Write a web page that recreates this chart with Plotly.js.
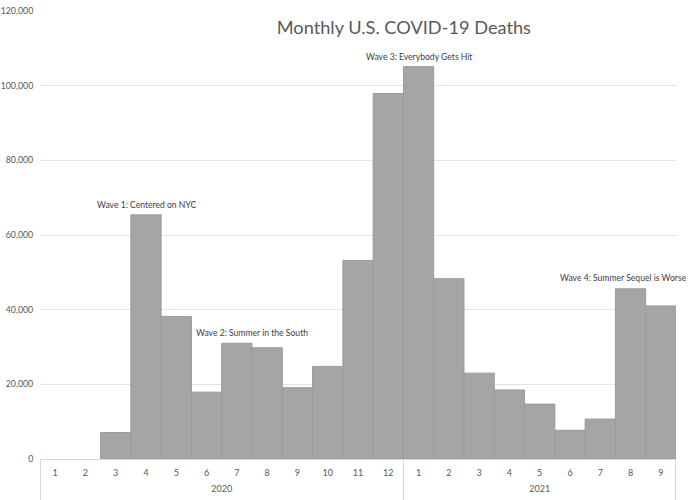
<!DOCTYPE html>
<html>
<head>
<meta charset="utf-8">
<script src="https://cdn.plot.ly/plotly-3.0.1.min.js"></script>
<style>
  html, body { margin: 0; padding: 0; background: #fff; }
  #chart { width: 688px; height: 500px; }
</style>
</head>
<body>
<div id="chart"></div>
<script>
// Monthly U.S. COVID-19 deaths, Jan 2020 – Sep 2021
const years  = ['2020','2020','2020','2020','2020','2020','2020','2020','2020','2020','2020','2020',
                '2021','2021','2021','2021','2021','2021','2021','2021','2021'];
const months = ['1','2','3','4','5','6','7','8','9','10','11','12',
                '1','2','3','4','5','6','7','8','9'];
const deaths = [0, 0, 7100, 65400, 38200, 17900, 31000, 29800, 19100, 24800, 53200, 97900,
                105100, 48300, 23000, 18500, 14700, 7700, 10700, 45600, 41000];

// Callout labels for each wave
const waveText = ['Wave 1: Centered on NYC', 'Wave 2: Summer in the South',
                  'Wave 3: Everybody Gets Hit', 'Wave 4: Summer Sequel is Worse'];
const waveX = [3, 6.5, 12, 18.78];
const waveY = [68100, 33800, 107700, 48500];

const FONT = 'Lato, "Open Sans", sans-serif';
const idx = months.map((_, i) => i);

// Year groups: label at group centre, divider lines at group edges
const groupNames = [], groupMid = [], groupEdges = [-0.5];
years.forEach((y, i) => {
  if (i === years.length - 1 || years[i + 1] !== y) {
    const start = groupEdges[groupEdges.length - 1];
    const end = i + 0.5;
    groupNames.push(y);
    groupMid.push((start + end) / 2);
    groupEdges.push(end);
  }
});
// keep the outer dividers just inside the axis range
const dividerVals = groupEdges.map((e, i) =>
  i === 0 ? e + 0.001 : (i === groupEdges.length - 1 ? e - 0.001 : e));

const bars = {
  type: 'bar',
  x: idx,
  y: deaths,
  text: idx.map(i => years[i] + '-' + months[i]),
  hoverinfo: 'text+y',
  textposition: 'none',
  marker: {
    color: '#a5a5a5',
    // no outline on empty months
    line: { color: '#9b9b9b', width: deaths.map(v => (v > 0 ? 1 : 0)) }
  },
  width: 1
};

// invisible carriers so the year-label and divider axes get drawn
const yearAxisCarrier = {
  type: 'scatter', mode: 'none', hoverinfo: 'skip',
  x: groupMid, y: groupMid.map(() => 0), xaxis: 'x2', yaxis: 'y'
};
const dividerAxisCarrier = {
  type: 'scatter', mode: 'none', hoverinfo: 'skip',
  x: dividerVals, y: dividerVals.map(() => 0), xaxis: 'x3', yaxis: 'y'
};

const annotations = waveText.map((t, i) => ({
  text: t,
  xref: 'x', yref: 'y',
  x: waveX[i], y: waveY[i],
  xanchor: 'center', yanchor: 'middle',
  showarrow: false,
  font: { family: FONT, size: 8.6, color: '#404040' }
}));

const xRange = [-0.5, months.length - 0.5];

const layout = {
  width: 688, height: 500,
  margin: { l: 40, r: 12, t: 11, b: 41 },
  paper_bgcolor: '#ffffff', plot_bgcolor: '#ffffff',
  showlegend: false,
  bargap: 0,
  title: {
    text: 'Monthly U.S. COVID-19 Deaths',
    x: 0.587, xanchor: 'center', xref: 'container',
    y: 0.944, yanchor: 'middle', yref: 'container',
    font: { family: FONT, size: 18.2, color: '#595959' }
  },
  // month labels
  xaxis: {
    range: xRange, fixedrange: true,
    tickmode: 'array', tickvals: idx, ticktext: months,
    showline: true, linecolor: '#d9d9d9', linewidth: 1,
    showgrid: false, zeroline: false,
    ticks: 'outside', ticklen: 5, tickcolor: 'rgba(0,0,0,0)',
    tickfont: { family: FONT, size: 9, color: '#595959' }
  },
  // year labels
  xaxis2: {
    overlaying: 'x', anchor: 'y', side: 'bottom',
    range: xRange, fixedrange: true,
    tickmode: 'array', tickvals: groupMid, ticktext: groupNames,
    showline: false, showgrid: false, zeroline: false,
    ticks: 'outside', ticklen: 21, tickcolor: 'rgba(0,0,0,0)',
    tickfont: { family: FONT, size: 9, color: '#595959' }
  },
  // group dividers
  xaxis3: {
    overlaying: 'x', anchor: 'y', side: 'bottom',
    range: xRange, fixedrange: true,
    tickmode: 'array', tickvals: dividerVals,
    showticklabels: false,
    showline: false, showgrid: false, zeroline: false,
    ticks: 'outside', ticklen: 41, tickwidth: 1, tickcolor: '#d9d9d9'
  },
  yaxis: {
    range: [0, 120000], dtick: 20000, tickformat: ',d',
    showgrid: true, gridcolor: '#dfe5f2', gridwidth: 1,
    zeroline: false, showline: false,
    ticks: 'outside', ticklen: 4, tickcolor: 'rgba(0,0,0,0)',
    tickfont: { family: FONT, size: 8.8, color: '#595959' }
  },
  annotations: annotations
};

Plotly.newPlot('chart', [bars, yearAxisCarrier, dividerAxisCarrier], layout,
  { displayModeBar: false, staticPlot: true });
</script>
</body>
</html>
